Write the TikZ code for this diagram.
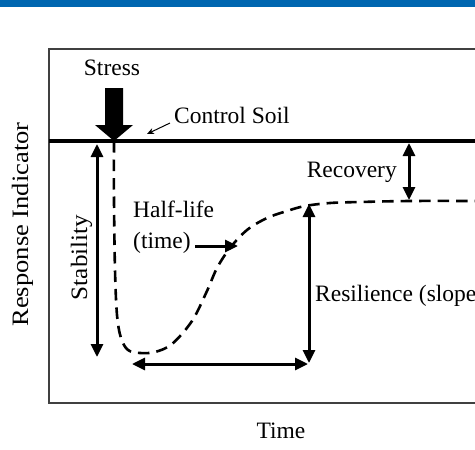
\documentclass[tikz,border=0pt]{standalone}
\usepackage{fontspec}
\setmainfont{Liberation Serif}
\usetikzlibrary{arrows.meta}
\definecolor{bandblue}{RGB}{0,102,176}
\begin{document}
\begin{tikzpicture}[x=1pt,y=-1pt,
  lbl/.style={inner sep=0pt,font=\fontsize{23.5}{27}\selectfont},
  dbl/.style={line width=3pt,{Triangle[length=13pt,width=12pt]}-{Triangle[length=13pt,width=12pt]}},
  sgl/.style={line width=3pt,-{Triangle[length=13pt,width=12pt]}},
  thinptr/.style={line width=1pt,-{Stealth[length=7pt,width=6pt]}},
  curve/.style={line width=2.6pt,dash pattern=on 11.5pt off 7pt}]
\useasboundingbox (0,0) rectangle (475,450);
\clip (0,0) rectangle (475,450);
\fill[white] (0,0) rectangle (475,450);
\fill[bandblue] (0,0) rectangle (475,7);
% frame
\draw[line width=1.5pt,black!75] (49,49) rectangle (520,403);
% control line
\coordinate (cl0) at (49,141);
\coordinate (cl1) at (480,141);
\draw[line width=3.5pt] (cl0) -- (cl1);
% stress arrow
\fill (105,88) -- (123,88) -- (123,125) -- (133,125) -- (114,141) -- (95,125) -- (105,125) -- cycle;
\node[lbl,anchor=base] (stress) at (112,75) {Stress};
% control soil label and pointer
\node[lbl,anchor=base west] (control) at (174,123) {Control Soil};
\coordinate (cp0) at (170,123);
\coordinate (cp1) at (147,134);
\draw[thinptr] (cp0) -- (cp1);
% dashed response curve
\draw[curve] plot[smooth,tension=0.55] coordinates {(114,141) (114,200) (115,270) (117,315) (121,338) (128,350) (140,353) (155,352) (172,344) (192,321) (207,291) (217,268) (230,248) (247,230) (267,218) (287,211) (305,206) (330,203) (360,202) (410,201) (480,201)};
% stability
\coordinate (st0) at (97,144);
\coordinate (st1) at (97,357);
\draw[dbl] (st0) -- (st1);
\node[lbl,anchor=base,rotate=90] (stab) at (87,257.5) {\scalebox{1.07}[1]{Stability}};
% response indicator axis label
\node[lbl,anchor=base,rotate=90] (resp) at (28,224.5) {\scalebox{1.13}[1]{Response Indicator}};
% half-life
\node[lbl,anchor=base west] (half) at (133,217) {Half-life};
\node[lbl,anchor=base west] (htime) at (133,248) {(time)};
\coordinate (hl0) at (195,246);
\coordinate (hl1) at (238,246);
\draw[sgl] (hl0) -- (hl1);
% time span
\coordinate (ts0) at (132,364);
\coordinate (ts1) at (308,364);
\draw[dbl] (ts0) -- (ts1);
% resilience
\coordinate (rs0) at (309,204);
\coordinate (rs1) at (309,363);
\draw[dbl] (rs0) -- (rs1);
\node[lbl,anchor=base west] (resil) at (315,301) {Resilience (slope)};
% recovery
\coordinate (rc0) at (409,143);
\coordinate (rc1) at (409,200);
\draw[dbl] (rc0) -- (rc1);
\node[lbl,anchor=base east] (recov) at (397,177) {Recovery};
% time axis label
\node[lbl,anchor=base] (time) at (281,438) {Time};
\end{tikzpicture}
\end{document}
